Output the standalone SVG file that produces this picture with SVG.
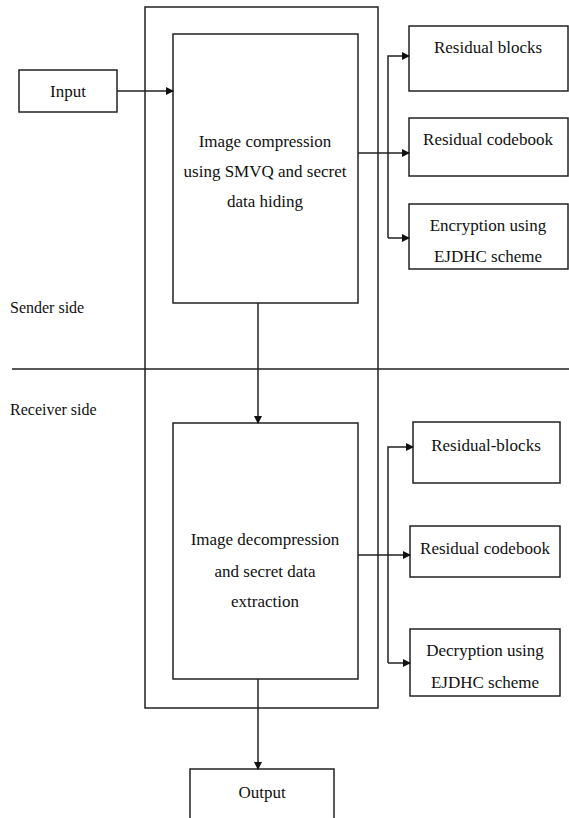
<svg xmlns="http://www.w3.org/2000/svg" width="569" height="818" viewBox="0 0 569 818">
<style>
.box{fill:none;stroke:#222;stroke-width:1.5}
.ln{fill:none;stroke:#222;stroke-width:1.5}
text{font-family:'Liberation Serif','Times New Roman',Tinos,'Noto Serif','DejaVu Serif',Times,serif;fill:#111}
.t{font-size:17px;text-anchor:middle}
.l{font-size:16px}
</style>
<defs>
<marker id="ah" markerWidth="8" markerHeight="8" refX="7" refY="4" orient="auto" markerUnits="userSpaceOnUse">
<path d="M0,0 L8,4 L0,8 Z" fill="#111"/>
</marker>
</defs>
<rect width="569" height="818" fill="#fff"/>
<g id="outer"><rect class="box" x="145" y="7" width="233" height="701"/></g>
<line class="ln" x1="12" y1="369" x2="569" y2="369"/>
<text class="l" x="10" y="313">Sender side</text>
<text class="l" x="10" y="415">Receiver side</text>
<g id="input"><rect class="box" x="19" y="70" width="98" height="42"/><text class="t" x="68" y="97">Input</text></g>
<g id="compress"><rect class="box" x="173" y="34" width="185" height="269"/>
<text class="t" x="265" y="147">Image compression</text>
<text class="t" x="265" y="177">using SMVQ and secret</text>
<text class="t" x="265" y="207">data hiding</text></g>
<g id="rblocks1"><rect class="box" x="409" y="26" width="159" height="65"/><text class="t" x="488" y="53">Residual blocks</text></g>
<g id="rcode1"><rect class="box" x="409" y="118" width="159" height="58"/><text class="t" x="488" y="145">Residual codebook</text></g>
<g id="enc"><rect class="box" x="409" y="204" width="159" height="65"/><text class="t" x="488" y="231">Encryption using</text><text class="t" x="488" y="262">EJDHC scheme</text></g>
<g id="decompress"><rect class="box" x="173" y="423" width="185" height="256"/>
<text class="t" x="265" y="545">Image decompression</text>
<text class="t" x="265" y="577">and secret data</text>
<text class="t" x="265" y="607">extraction</text></g>
<g id="rblocks2"><rect class="box" x="413" y="422" width="147" height="61"/><text class="t" x="486" y="451">Residual-blocks</text></g>
<g id="rcode2"><rect class="box" x="410" y="526" width="150" height="51"/><text class="t" x="485" y="554">Residual codebook</text></g>
<g id="dec"><rect class="box" x="410" y="629" width="150" height="67"/><text class="t" x="485" y="656">Decryption using</text><text class="t" x="485" y="688">EJDHC scheme</text></g>
<g id="output"><rect class="box" x="190" y="769" width="144" height="60"/><text class="t" x="262" y="798">Output</text></g>
<g id="connectors">
<line class="ln" x1="117" y1="91" x2="173" y2="91" marker-end="url(#ah)"/>
<line class="ln" x1="358" y1="153" x2="409" y2="153" marker-end="url(#ah)"/>
<polyline class="ln" points="388,238 388,56 409,56" marker-end="url(#ah)"/>
<line class="ln" x1="388" y1="238" x2="409" y2="238" marker-end="url(#ah)"/>
<line class="ln" x1="258" y1="303" x2="258" y2="423" marker-end="url(#ah)"/>
<line class="ln" x1="358" y1="555" x2="410" y2="555" marker-end="url(#ah)"/>
<polyline class="ln" points="388,663 388,447 413,447" marker-end="url(#ah)"/>
<line class="ln" x1="388" y1="663" x2="410" y2="663" marker-end="url(#ah)"/>
<line class="ln" x1="258" y1="679" x2="258" y2="769" marker-end="url(#ah)"/>
</g>
</svg>
